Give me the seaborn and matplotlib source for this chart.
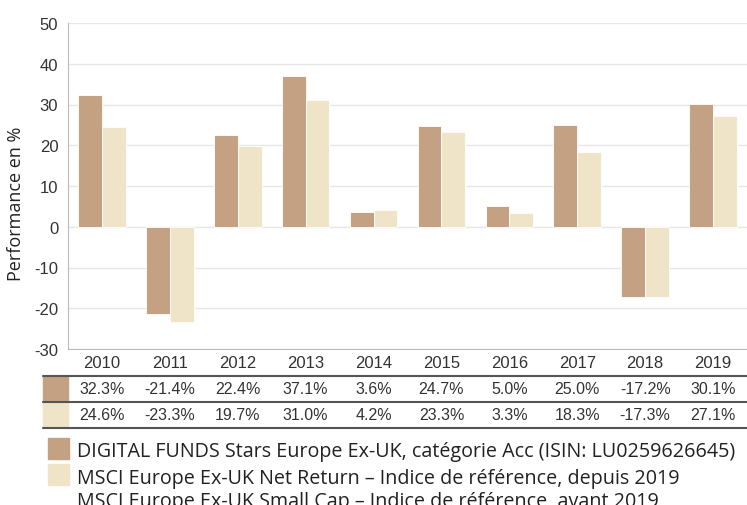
import pandas as pd
import matplotlib.pyplot as plt
import seaborn as sns
from matplotlib.patches import Rectangle
from matplotlib.lines import Line2D

sns.set_style("white")
plt.rcParams['axes.unicode_minus'] = False

years = ['2010', '2011', '2012', '2013', '2014', '2015', '2016', '2017', '2018', '2019']
fund = [32.3, -21.4, 22.4, 37.1, 3.6, 24.7, 5.0, 25.0, -17.2, 30.1]
bench = [24.6, -23.3, 19.7, 31.0, 4.2, 23.3, 3.3, 18.3, -17.3, 27.1]
legend_lines = ['DIGITAL FUNDS Stars Europe Ex-UK, catégorie Acc (ISIN: LU0259626645)',
                'MSCI Europe Ex-UK Net Return – Indice de référence, depuis 2019',
                'MSCI Europe Ex-UK Small Cap – Indice de référence, avant 2019']
colors = ['#C4A183', '#EFE3C8']

df = pd.DataFrame({'year': years * 2,
                   'value': fund + bench,
                   'series': ['fund'] * len(years) + ['bench'] * len(years)})

W, H = 747, 506
fig = plt.figure(figsize=(W / 100, H / 100), dpi=100)
ax = fig.add_axes([68 / W, 1 - 350 / H, 1 - 68 / W, (350 - 24) / H])

sns.barplot(data=df, x='year', y='value', hue='series', palette=colors,
            width=0.7, gap=0, saturation=1, ax=ax, legend=False,
            edgecolor='white', linewidth=0.6, errorbar=None)

ax.set_ylim(-30, 50)
ax.set_yticks(range(-30, 51, 10))
ax.set_xlim(-0.5, len(years) - 0.5)
ax.yaxis.grid(True, color='#e6e6e6', linewidth=1)
ax.set_axisbelow(True)
for s in ['top', 'right']:
    ax.spines[s].set_visible(False)
for s in ['left', 'bottom']:
    ax.spines[s].set_color('#bbbbbb')
ax.tick_params(axis='y', labelsize=12, labelcolor='#333333', length=0, pad=7)
ax.tick_params(axis='x', labelsize=12, labelcolor='#333333', length=0, pad=4)
for lab in ax.get_xticklabels() + ax.get_yticklabels():
    lab.set_family('Liberation Sans')
ax.set_xlabel('')
ax.set_ylabel('')


def fy(y):
    return 1 - y / H


fig.text(16 / W, fy(204), 'Performance en %', rotation=90, ha='center', va='center',
         fontsize=13, color='#222222', family='Open Sans')

# data table under the chart
for y in [377, 402.5, 429]:
    fig.add_artist(Line2D([43 / W, 1], [fy(y), fy(y)], color='#555555', linewidth=1.5))
fig.add_artist(Rectangle((43 / W, fy(402)), 25 / W, 25 / H, color=colors[0], transform=fig.transFigure))
fig.add_artist(Rectangle((43 / W, fy(428)), 25 / W, 25 / H, color=colors[1], transform=fig.transFigure))

xt = ax.get_xticks()
for vals, yy in [(fund, 390), (bench, 416)]:
    for i, v in enumerate(vals):
        xf = fig.transFigure.inverted().transform(ax.transData.transform((xt[i], 0)))[0]
        fig.text(xf, fy(yy), f'{v:.1f}%', ha='center', va='center', fontsize=11.5,
                 color='#333333', family='Liberation Sans')

# legend
for k, ys in enumerate([439, 465]):
    fig.add_artist(Rectangle((48 / W, fy(ys + 21)), 21 / W, 21 / H, color=colors[k],
                             transform=fig.transFigure))
for line, yb in zip(legend_lines, [457, 484, 507]):
    fig.text(77 / W, fy(yb), line, ha='left', va='baseline', fontsize=14.2,
             color='#222222', family='Open Sans')

fig.savefig('out.png', dpi=100)
